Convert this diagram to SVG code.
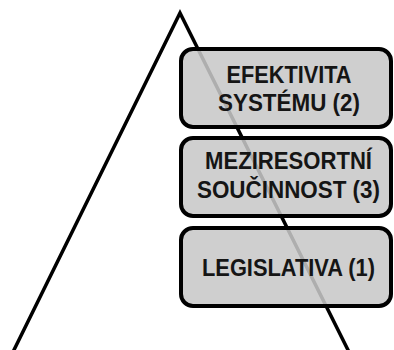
<svg xmlns="http://www.w3.org/2000/svg" width="394" height="350" viewBox="0 0 394 350">
<style>
.box{fill:#c8c8c8;fill-opacity:0.87;stroke:#000;stroke-width:4}
.t{font-family:"Liberation Sans",Arial,sans-serif;font-weight:bold;font-size:23px;fill:#151515;text-anchor:middle}
.ln{fill:none;stroke:#000;stroke-width:3.5;stroke-linejoin:miter}
</style>
<rect width="394" height="350" fill="#fff"/>
<g id="connectors">
<polyline class="ln" points="11,356 180,13 351,356"/>
</g>
<g id="node-efektivita">
<rect class="box" x="181" y="49" width="210" height="78" rx="12"/>
<text class="t" x="289" y="82.5" textLength="125" lengthAdjust="spacingAndGlyphs">EFEKTIVITA</text>
<text class="t" x="289" y="110.5" textLength="142" lengthAdjust="spacingAndGlyphs">SYSTÉMU (2)</text>
</g>
<g id="node-mezirezortni">
<rect class="box" x="181" y="138" width="210" height="78" rx="12"/>
<text class="t" x="288.5" y="169" textLength="167" lengthAdjust="spacingAndGlyphs">MEZIRESORTNÍ</text>
<text class="t" x="288.5" y="198" textLength="183" lengthAdjust="spacingAndGlyphs">SOUČINNOST (3)</text>
</g>
<g id="node-legislativa">
<rect class="box" x="181" y="228" width="210" height="78" rx="12"/>
<text class="t" x="288.5" y="276" textLength="173" lengthAdjust="spacingAndGlyphs">LEGISLATIVA (1)</text>
</g>
</svg>
